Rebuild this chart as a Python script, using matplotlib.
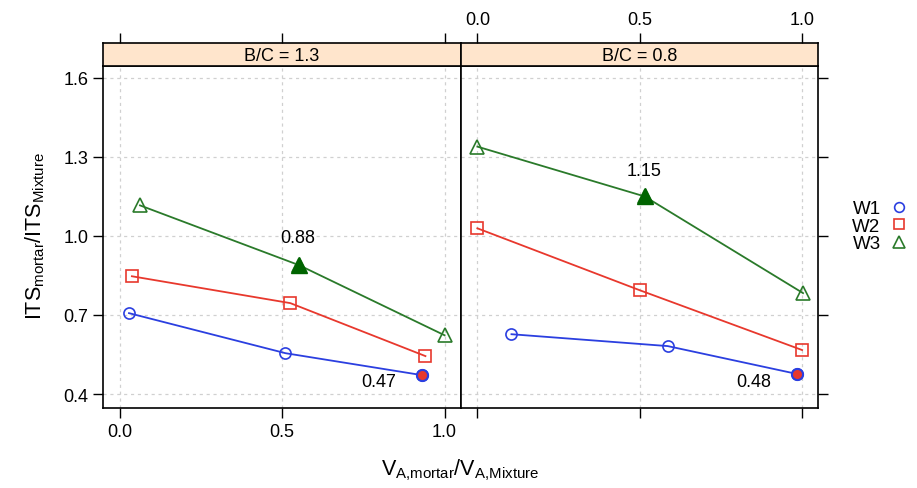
import matplotlib
matplotlib.use("Agg")
import matplotlib.pyplot as plt
from matplotlib.lines import Line2D

plt.rcParams["font.family"] = ["Liberation Sans", "DejaVu Sans"]
plt.rcParams["mathtext.fontset"] = "custom"
plt.rcParams["mathtext.rm"] = "Liberation Sans"
plt.rcParams["mathtext.it"] = "Liberation Sans"

# data
panels = ["B/C = 1.3", "B/C = 0.8"]
w1_x = [[0.028, 0.51, 0.929], [0.105, 0.586, 0.985]]
w1_y = [[0.707, 0.555, 0.472], [0.627, 0.582, 0.476]]
w2_x = [[0.037, 0.525, 0.941], [0.0, 0.5, 1.0]]
w2_y = [[0.847, 0.745, 0.544], [1.029, 0.794, 0.567]]
w3_x = [[0.062, 0.552, 1.0], [0.0, 0.515, 1.003]]
w3_y = [[1.116, 0.889, 0.623], [1.339, 1.15, 0.783]]
labels = [["0.88", "0.47"], ["1.15", "0.48"]]

xticks = [0.0, 0.5, 1.0]
yticks = [0.4, 0.7, 1.0, 1.3, 1.6]

blue = "#2b3fe0"
red = "#e8382d"
green = "#2a7a2a"
dkgreen = "#006400"

fig = plt.figure(figsize=(9.17, 4.89), dpi=100)
W, H = 917, 489
left, mid, right = 103, 460.5, 818
bottom, top, strip_top = 409, 67, 44

lab_pos = [[(0.549, 0.995), (0.796, 0.449)], [(0.512, 1.248), (0.852, 0.449)]]

for i in range(2):
    x0 = left if i == 0 else mid
    x1 = mid if i == 0 else right
    ax = fig.add_axes([x0 / W, 1 - bottom / H, (x1 - x0) / W, (bottom - top) / H])
    ax.set_xlim(-0.052, 1.049)
    ax.set_ylim(0.347, 1.645)
    ax.set_xticks(xticks)
    ax.set_yticks(yticks)
    ax.grid(True, color="#d0d0d0", linestyle=(0, (2.5, 3)), linewidth=0.9)
    ax.tick_params(direction="out", length=7, width=1, labelsize=13, colors="black")
    ax.set_xticklabels(["0.0", "0.5", "1.0"])
    ax.set_yticklabels(["0.4", "0.7", "1.0", "1.3", "1.6"])
    if i == 0:
        ax.tick_params(left=True, labelleft=True, right=False, bottom=True, labelbottom=True)
    else:
        ax.tick_params(left=False, labelleft=False, right=True, labelright=False,
                       bottom=True, labelbottom=False)
    for s in ax.spines.values():
        s.set_linewidth(1.2)

    ax.plot(w1_x[i], w1_y[i], color=blue, lw=1.3, marker="o", ms=8, mfc="none", mew=1.2)
    ax.plot(w2_x[i], w2_y[i], color=red, lw=1.3, marker="s", ms=8, mfc="none", mew=1.2)
    ax.plot(w3_x[i], w3_y[i], color=green, lw=1.3, marker="^", ms=10, mfc="none", mew=1.2)
    # highlighted points
    ax.plot(w3_x[i][1], w3_y[i][1], marker="^", ms=11, color=dkgreen, zorder=5)
    ax.plot(w1_x[i][2], w1_y[i][2], marker="o", ms=8, mfc=red, mec=blue, mew=1.5, zorder=5)
    ax.text(*lab_pos[i][0], labels[i][0], ha="center", va="center", fontsize=13)
    ax.text(*lab_pos[i][1], labels[i][1], ha="center", va="center", fontsize=13)

    sx = fig.add_axes([x0 / W, 1 - top / H, (x1 - x0) / W, (top - strip_top) / H])
    sx.set_facecolor("#ffe5cc")
    sx.set_xlim(-0.052, 1.049)
    sx.set_ylim(0, 1)
    sx.set_yticks([])
    sx.set_xticks(xticks)
    sx.set_xticklabels(["0.0", "0.5", "1.0"])
    sx.tick_params(axis="x", direction="out", length=7, width=1, labelsize=13,
                   bottom=False, labelbottom=False, top=True, labeltop=(i == 1))
    for s in sx.spines.values():
        s.set_linewidth(1.2)
    sx.text(0.5, 0.47, panels[i], transform=sx.transAxes, ha="center", va="center",
            fontsize=13)

fig.text(35 / W, 1 - 236 / H, r"$\mathrm{ITS_{mortar}/ITS_{Mixture}}$",
         rotation=90, ha="center", va="center", fontsize=15.5)
fig.text(460 / W, 1 - 470 / H, r"$\mathrm{V_{A{,}mortar}/V_{A{,}Mixture}}$",
         ha="center", va="center", fontsize=15.5)

handles = [
    Line2D([], [], ls="none", marker="o", ms=7, mfc="none", mec=blue, mew=1.2),
    Line2D([], [], ls="none", marker="s", ms=7, mfc="none", mec=red, mew=1.2),
    Line2D([], [], ls="none", marker="^", ms=9, mfc="none", mec=green, mew=1.2),
]
fig.legend(handles, ["W1", "W2", "W3"], loc="center left",
           bbox_to_anchor=(843 / W, 1 - 227 / H), frameon=False, markerfirst=False,
           handlelength=1.0, handletextpad=0.5, labelspacing=0.02, fontsize=13.5,
           borderpad=0)

fig.savefig("out.png", dpi=100)
